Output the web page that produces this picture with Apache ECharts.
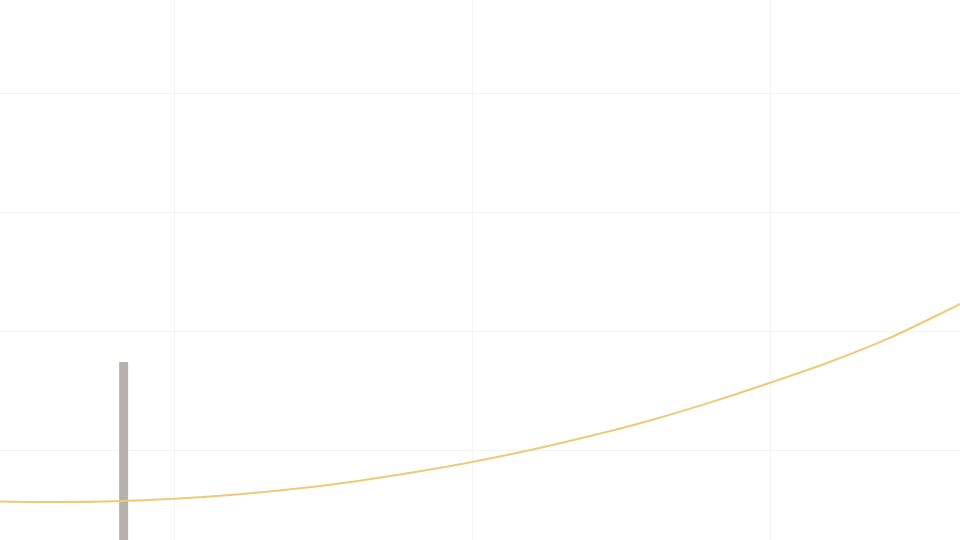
<!DOCTYPE html>
<html>
<head>
<meta charset="utf-8">
<script src="https://cdn.jsdelivr.net/npm/echarts@6/dist/echarts.min.js"></script>
<style>
  html, body { margin: 0; padding: 0; background: #fff; }
  #chart { width: 960px; height: 540px; }
</style>
</head>
<body>
<div id="chart"></div>
<script>
// curve samples (x, y)
const curveX = [2, 4, 6, 8, 10, 12, 14, 16, 18, 20, 22, 24, 26, 28, 30, 32, 34, 36, 38]
const curveY = [5.9, 5.69, 5.62, 5.69, 5.9, 6.24, 6.72, 7.34, 8.1, 8.99, 10.02, 11.19, 12.5, 14.0, 15.65, 17.4, 19.4, 21.8, 24.3]

// single bar
const barX = [8.31]
const barY = [17.4]

const chart = echarts.init(document.getElementById('chart'))

const option = {
  backgroundColor: '#ffffff',
  animation: false,
  grid: {
    left: -124,
    right: -108,
    top: -26,
    bottom: -29,
    containLabel: false,
    outerBoundsMode: 'none',
  },
  xAxis: {
    type: 'value',
    min: 0,
    max: 40,
    interval: 10,
    axisLine: { show: false },
    axisTick: { show: false },
    axisLabel: { show: false },
    splitLine: { show: true, lineStyle: { color: '#f4f4f4', width: 1 } },
  },
  yAxis: {
    type: 'value',
    min: 0,
    max: 50,
    interval: 10,
    axisLine: { show: false },
    axisTick: { show: false },
    axisLabel: { show: false },
    splitLine: { show: true, lineStyle: { color: '#f4f4f4', width: 1 } },
  },
  series: [
    {
      type: 'bar',
      data: barX.map((x, i) => [x, barY[i]]),
      barWidth: 9,
      itemStyle: { color: '#b3b2ab' },
      z: 2,
    },
    {
      type: 'line',
      data: curveX.map((x, i) => [x, curveY[i]]),
      smooth: 0.3,
      showSymbol: false,
      lineStyle: { color: '#edcb76', width: 2 },
      z: 3,
    },
  ],
}

chart.setOption(option, true)
</script>
</body>
</html>
